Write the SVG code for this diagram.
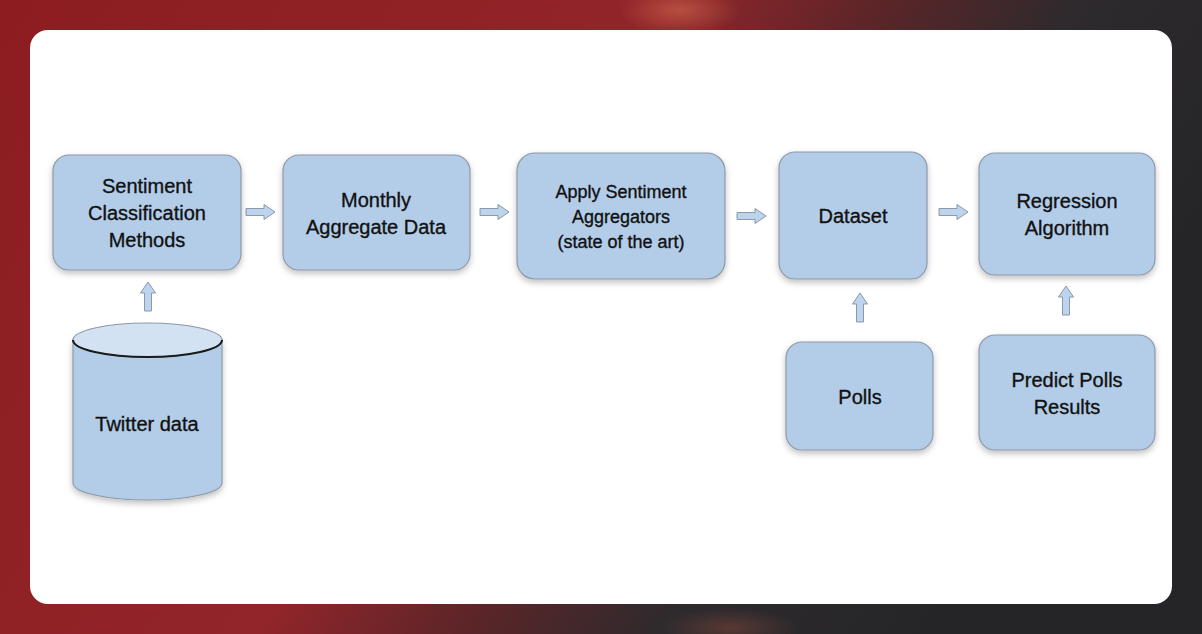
<svg xmlns="http://www.w3.org/2000/svg" width="1202" height="634" viewBox="0 0 1202 634">
<defs>
<linearGradient id="bg" x1="0" y1="0" x2="1" y2="0.35">
<stop offset="0" stop-color="#8c1c1f"/>
<stop offset="0.5" stop-color="#92252a"/>
<stop offset="0.66" stop-color="#5a2528"/>
<stop offset="0.8" stop-color="#2e2a2d"/>
<stop offset="1" stop-color="#252528"/>
</linearGradient>
<radialGradient id="glow" cx="0.5" cy="0.5" r="0.5">
<stop offset="0" stop-color="#c8614a" stop-opacity="0.7"/>
<stop offset="1" stop-color="#c8614a" stop-opacity="0"/>
</radialGradient>
<filter id="sh" x="-10%" y="-10%" width="120%" height="130%">
<feDropShadow dx="0" dy="3" stdDeviation="3" flood-color="#000" flood-opacity="0.25"/>
</filter>
<path id="harr" d="M0,-3.5 H18 V-7.5 L29,0 L18,7.5 V3.5 H0 Z"/>
</defs>
<style>
.box{fill:#b3cde9;stroke:#8d98a8;stroke-width:1.2;filter:url(#sh)}
.t{font-family:"Liberation Sans",Arial,sans-serif;font-size:20px;fill:#111;stroke:#111;stroke-width:0.35;text-anchor:middle}
.s{font-size:18px}
.arr{fill:#bcd4ee;stroke:#8d98a8;stroke-width:1}
</style>
<rect width="1202" height="634" fill="url(#bg)"/>
<ellipse cx="680" cy="10" rx="60" ry="25" fill="url(#glow)"/>
<ellipse cx="730" cy="628" rx="70" ry="20" fill="url(#glow)" opacity="0.4"/>
<rect x="30" y="30" width="1142" height="574" rx="18" fill="#ffffff"/>

<g id="connectors">
<use href="#harr" class="arr" transform="translate(246,212)"/>
<use href="#harr" class="arr" transform="translate(480,212)"/>
<use href="#harr" class="arr" transform="translate(737,216)"/>
<use href="#harr" class="arr" transform="translate(939,212)"/>
<use href="#harr" class="arr" transform="translate(148,311) rotate(-90)"/>
<use href="#harr" class="arr" transform="translate(860,322) rotate(-90)"/>
<use href="#harr" class="arr" transform="translate(1066,315) rotate(-90)"/>
</g>

<g id="twitter">
<path d="M73,340 V483 A74.5,17 0 0 0 222,483 V340 Z" fill="#b3cde9" stroke="#8d98a8" stroke-width="1.2" filter="url(#sh)"/>
<ellipse cx="147.5" cy="340" rx="74.5" ry="17" fill="#d2e2f3" stroke="#8d98a8" stroke-width="1.2"/>
<path d="M73,340 A74.5,17 0 0 0 222,340" fill="none" stroke="#1a1a1a" stroke-width="2"/>
<text class="t" x="147" y="431">Twitter data</text>
</g>

<g id="sentiment">
<rect class="box" x="53" y="155" width="188" height="115" rx="16"/>
<text class="t" x="147" y="193">Sentiment</text>
<text class="t" x="147" y="220">Classification</text>
<text class="t" x="147" y="247">Methods</text>
</g>

<g id="monthly">
<rect class="box" x="283" y="155" width="187" height="115" rx="16"/>
<text class="t" x="376" y="207">Monthly</text>
<text class="t" x="376" y="234">Aggregate Data</text>
</g>

<g id="apply">
<rect class="box" x="517" y="153" width="208" height="126" rx="18"/>
<text class="t s" x="621" y="198">Apply Sentiment</text>
<text class="t s" x="621" y="223">Aggregators</text>
<text class="t s" x="621" y="248">(state of the art)</text>
</g>

<g id="dataset">
<rect class="box" x="779" y="152" width="148" height="127" rx="16"/>
<text class="t" x="853" y="223">Dataset</text>
</g>

<g id="regression">
<rect class="box" x="979" y="153" width="176" height="122" rx="16"/>
<text class="t" x="1067" y="208">Regression</text>
<text class="t" x="1067" y="235">Algorithm</text>
</g>

<g id="polls">
<rect class="box" x="786" y="342" width="147" height="108" rx="16"/>
<text class="t" x="860" y="404">Polls</text>
</g>

<g id="predict">
<rect class="box" x="979" y="335" width="176" height="115" rx="16"/>
<text class="t" x="1067" y="387">Predict Polls</text>
<text class="t" x="1067" y="414">Results</text>
</g>
</svg>
